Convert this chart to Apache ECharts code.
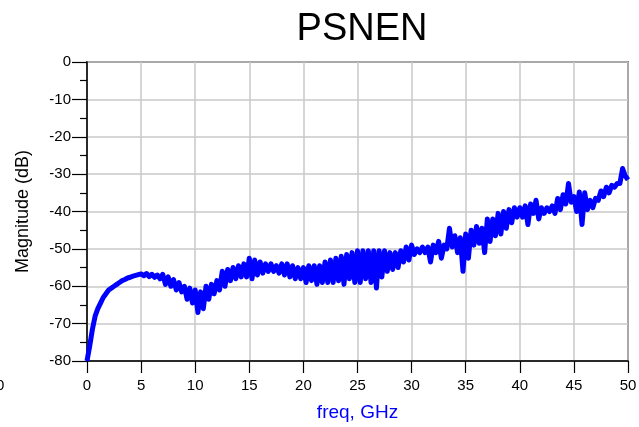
<!DOCTYPE html>
<html>
<head>
<meta charset="utf-8">
<script src="https://cdn.jsdelivr.net/npm/echarts@6/dist/echarts.min.js"></script>
<style>html,body{margin:0;padding:0;background:#fff;}#c{width:639px;height:427px;}</style>
</head>
<body>
<div id="c"></div>
<script>
// Sample spacing of the frequency sweep (GHz)
const freqStep = 0.25;
// Magnitude (dB), one value per 0.25 GHz from 0 to 50 GHz
const magnitude = [
  -80, -76, -71.5, -68,
  -66, -64.5, -63, -62,
  -61, -60.5, -60, -59.5,
  -59, -58.5, -58.2, -57.8,
  -57.6, -57.3, -57.1, -56.9,
  -56.7, -57.2, -56.6, -57.4,
  -56.8, -57.6, -57.0, -58.0,
  -56.8, -59.5, -57.5, -60.0,
  -58.2, -61.0, -59.0, -61.5,
  -60.0, -63.5, -60.5, -64.5,
  -61.0, -67.0, -61.5, -66.0,
  -60.0, -63.5, -59.5, -62.0,
  -58.5, -61.0, -56.0, -60.0,
  -55.5, -58.5, -55.0, -58.0,
  -54.5, -57.5, -54.0, -57.5,
  -52.5, -58.0, -53.0, -57.0,
  -53.5, -56.5, -54.0, -56.0,
  -54.0, -56.0, -54.5, -56.5,
  -54.0, -57.0, -54.0, -57.5,
  -54.5, -58.0, -55.0, -58.0,
  -55.0, -59.0, -54.5, -58.5,
  -54.5, -59.5, -54.5, -59.0,
  -53.5, -59.0, -53.0, -59.0,
  -52.5, -58.5, -52.0, -59.5,
  -51.5, -58.0, -51.0, -59.0,
  -50.5, -59.0, -50.5, -58.0,
  -50.5, -59.0, -50.5, -60.5,
  -50.5, -57.5, -50.5, -56.0,
  -51.0, -55.5, -51.0, -55.0,
  -50.5, -53.5, -49.5, -53.0,
  -49.0, -51.5, -50.0, -51.0,
  -49.5, -51.0, -49.5, -53.5,
  -49.0, -51.0, -48.0, -52.5,
  -49.0, -50.0, -44.5, -49.5,
  -46.5, -51.0, -47.0, -56.0,
  -46.0, -52.5, -45.0, -49.0,
  -44.0, -48.5, -44.5, -51.0,
  -42.0, -48.0, -42.0, -46.5,
  -40.5, -46.0, -40.0, -44.5,
  -39.5, -43.0, -39.0, -41.5,
  -39.0, -41.5, -38.5, -43.5,
  -38.0, -40.5, -37.0, -42.0,
  -39.0, -40.5, -39.0, -40.0,
  -38.5, -40.5, -36.5, -39.5,
  -35.5, -38.0, -32.5, -37.5,
  -36.0, -40.0, -34.8, -43.5,
  -35.0, -39.5, -37.0, -39.0,
  -36.5, -37.0, -34.5, -36.0,
  -33.5, -35.0, -33.0, -33.5,
  -32.5, -32.5, -28.5, -30.5,
  -31.5
];
const xTicks = { min: 0, max: 50, interval: 5 };
const yTicks = { min: -80, max: 0, interval: 10 };
const titleText = 'PSNEN';
const xName = 'freq, GHz';
const yName = 'Magnitude (dB)';

const seriesData = magnitude.map((v, i) => [i * freqStep, v]);

const font = 'Arial, "Liberation Sans", sans-serif';
const chart = echarts.init(document.getElementById('c'), null, { renderer: 'canvas' });
chart.setOption({
  animation: false,
  backgroundColor: '#fff',
  title: {
    text: titleText,
    left: 357,
    textAlign: 'center',
    top: 6,
    textStyle: { fontFamily: font, fontSize: 38, fontWeight: 'normal', color: '#000' }
  },
  grid: {
    left: 87, right: 11, top: 62, bottom: 66,
    containLabel: false,
    outerBoundsMode: 'none',
    show: true, borderColor: '#111', borderWidth: 1.5, backgroundColor: 'transparent'
  },
  xAxis: {
    type: 'value',
    min: xTicks.min, max: xTicks.max, interval: xTicks.interval,
    name: xName,
    nameLocation: 'middle',
    nameGap: 42,
    nameTextStyle: { fontFamily: font, fontSize: 19, color: '#0000ff' },
    axisLine: { show: true, onZero: false, lineStyle: { color: '#000', width: 1.5 } },
    axisTick: { show: true, inside: false, length: 12, lineStyle: { color: '#000', width: 1.2 } },
    axisLabel: { fontFamily: font, fontSize: 15, color: '#000', margin: 17 },
    splitLine: { show: true, lineStyle: { color: '#c8c8c8', width: 1.5 } }
  },
  yAxis: {
    type: 'value',
    min: yTicks.min, max: yTicks.max, interval: yTicks.interval,
    name: yName,
    nameLocation: 'middle',
    nameGap: 55,
    nameRotate: 90,
    nameTextStyle: { fontFamily: font, fontSize: 18, color: '#000' },
    axisLine: { show: true, onZero: false, lineStyle: { color: '#000', width: 1.5 } },
    axisTick: { show: true, inside: false, length: 15, lineStyle: { color: '#000', width: 1.2 } },
    minorTick: { show: true, splitNumber: 2, length: 7, lineStyle: { color: '#000', width: 1.2 } },
    axisLabel: { fontFamily: font, fontSize: 15, color: '#000', margin: 16 },
    splitLine: { show: true, lineStyle: { color: '#c8c8c8', width: 1.5 } }
  },
  graphic: [{
    type: 'text', left: -4, top: 378,
    style: { text: '0', font: '15px ' + font, fill: '#000' }
  }],
  series: [{
    type: 'line',
    data: seriesData,
    showSymbol: false,
    symbol: 'none',
    lineStyle: { color: '#0000ff', width: 5, join: 'round' },
    clip: true
  }]
});
</script>
</body>
</html>
